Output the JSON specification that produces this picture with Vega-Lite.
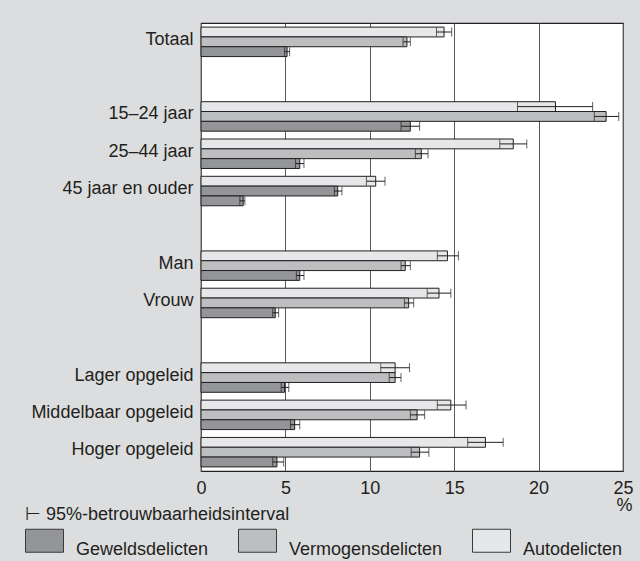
{
  "$schema": "https://vega.github.io/schema/vega-lite/v6.json",
  "autosize": {"type": "none"},
  "padding": {"left": 201, "top": 23, "right": 17, "bottom": 90},
  "width": 422,
  "height": 448,
  "background": "#dcddde",
  "config": {
    "font": "Liberation Sans",
    "view": {"fill": "#ffffff", "stroke": "#231f20", "strokeWidth": 1.2}
  },
  "data": {
    "values": [
      {"groep": "Totaal", "delict": "Autodelicten", "waarde": 14.4, "laag": 13.95, "hoog": 14.85},
      {"groep": "Totaal", "delict": "Vermogensdelicten", "waarde": 12.2, "laag": 11.97, "hoog": 12.4},
      {"groep": "Totaal", "delict": "Geweldsdelicten", "waarde": 5.1, "laag": 4.95, "hoog": 5.25},
      {"groep": "15–24 jaar", "delict": "Autodelicten", "waarde": 21.0, "laag": 18.75, "hoog": 23.2},
      {"groep": "15–24 jaar", "delict": "Vermogensdelicten", "waarde": 24.0, "laag": 23.3, "hoog": 24.75},
      {"groep": "15–24 jaar", "delict": "Geweldsdelicten", "waarde": 12.4, "laag": 11.85, "hoog": 12.95},
      {"groep": "25–44 jaar", "delict": "Autodelicten", "waarde": 18.5, "laag": 17.7, "hoog": 19.3},
      {"groep": "25–44 jaar", "delict": "Vermogensdelicten", "waarde": 13.05, "laag": 12.7, "hoog": 13.45},
      {"groep": "25–44 jaar", "delict": "Geweldsdelicten", "waarde": 5.85, "laag": 5.6, "hoog": 6.1},
      {"groep": "45 jaar en ouder", "delict": "Autodelicten", "waarde": 10.35, "laag": 9.8, "hoog": 10.9},
      {"groep": "45 jaar en ouder", "delict": "Vermogensdelicten", "waarde": 8.1, "laag": 7.9, "hoog": 8.35},
      {"groep": "45 jaar en ouder", "delict": "Geweldsdelicten", "waarde": 2.5, "laag": 2.3, "hoog": 2.6},
      {"groep": "Man", "delict": "Autodelicten", "waarde": 14.6, "laag": 14.0, "hoog": 15.25},
      {"groep": "Man", "delict": "Vermogensdelicten", "waarde": 12.1, "laag": 11.85, "hoog": 12.4},
      {"groep": "Man", "delict": "Geweldsdelicten", "waarde": 5.85, "laag": 5.65, "hoog": 6.1},
      {"groep": "Vrouw", "delict": "Autodelicten", "waarde": 14.1, "laag": 13.4, "hoog": 14.8},
      {"groep": "Vrouw", "delict": "Vermogensdelicten", "waarde": 12.3, "laag": 12.05, "hoog": 12.6},
      {"groep": "Vrouw", "delict": "Geweldsdelicten", "waarde": 4.4, "laag": 4.25, "hoog": 4.6},
      {"groep": "Lager opgeleid", "delict": "Autodelicten", "waarde": 11.5, "laag": 10.65, "hoog": 12.35},
      {"groep": "Lager opgeleid", "delict": "Vermogensdelicten", "waarde": 11.5, "laag": 11.15, "hoog": 11.85},
      {"groep": "Lager opgeleid", "delict": "Geweldsdelicten", "waarde": 4.95, "laag": 4.75, "hoog": 5.2},
      {"groep": "Middelbaar opgeleid", "delict": "Autodelicten", "waarde": 14.8, "laag": 14.0, "hoog": 15.7},
      {"groep": "Middelbaar opgeleid", "delict": "Vermogensdelicten", "waarde": 12.8, "laag": 12.4, "hoog": 13.25},
      {"groep": "Middelbaar opgeleid", "delict": "Geweldsdelicten", "waarde": 5.55, "laag": 5.3, "hoog": 5.85},
      {"groep": "Hoger opgeleid", "delict": "Autodelicten", "waarde": 16.85, "laag": 15.8, "hoog": 17.9},
      {"groep": "Hoger opgeleid", "delict": "Vermogensdelicten", "waarde": 12.95, "laag": 12.45, "hoog": 13.5},
      {"groep": "Hoger opgeleid", "delict": "Geweldsdelicten", "waarde": 4.5, "laag": 4.25, "hoog": 4.9}
    ]
  },
  "encoding": {
    "y": {
      "field": "groep",
      "type": "nominal",
      "title": null,
      "scale": {
        "domain": ["Totaal", "_1", "15–24 jaar", "25–44 jaar", "45 jaar en ouder", "_2", "Man", "Vrouw", "_3", "Lager opgeleid", "Middelbaar opgeleid", "Hoger opgeleid"],
        "paddingInner": 0.21,
        "paddingOuter": 0.11
      },
      "axis": {
        "labelExpr": "slice(datum.label, 0, 1) == '_' ? '' : datum.label",
        "ticks": false,
        "domain": false,
        "labelFontSize": 18,
        "labelColor": "#231f20",
        "labelPadding": 8,
        "labelOffset": -2,
        "labelLimit": 300
      }
    },
    "yOffset": {
      "field": "delict",
      "type": "nominal",
      "scale": {"domain": ["Autodelicten", "Vermogensdelicten", "Geweldsdelicten"], "paddingInner": 0, "paddingOuter": 0}
    }
  },
  "layer": [
    {
      "mark": {"type": "bar", "stroke": "#231f20", "strokeWidth": 1},
      "encoding": {
        "x": {
          "field": "waarde",
          "type": "quantitative",
          "scale": {"domain": [0, 25], "nice": false},
          "axis": {
            "values": [0, 5, 10, 15, 20, 25],
            "grid": true,
            "gridColor": "#58595b",
            "gridWidth": 1,
            "ticks": false,
            "domain": false,
            "labelFontSize": 18,
            "labelColor": "#231f20",
            "labelPadding": 8,
            "labelFlush": false,
            "title": "%",
            "titleFontSize": 18,
            "titleFontWeight": "normal",
            "titleColor": "#231f20",
            "titleAnchor": "end",
            "titleAlign": "right",
            "titleBaseline": "alphabetic",
            "titleX": 431,
            "titleY": 39
          }
        },
        "color": {
          "field": "delict",
          "type": "nominal",
          "condition": {"test": "datum.groep === '45 jaar en ouder' && datum.delict === 'Vermogensdelicten'", "value": "#939598"},
          "scale": {
            "domain": ["Geweldsdelicten", "Vermogensdelicten", "Autodelicten"],
            "range": ["#939598", "#bcbec0", "#e6e7e8"]
          },
          "legend": {
            "orient": "none",
            "legendX": -176,
            "legendY": 483,
            "direction": "horizontal",
            "columns": 3,
            "title": "⊢ 95%-betrouwbaarheidsinterval",
            "titleFontSize": 18,
            "titleFontWeight": "normal",
            "titleColor": "#231f20",
            "titleLimit": 500,
            "titlePadding": -3,
            "labelFontSize": 18,
            "labelColor": "#231f20",
            "labelBaseline": "top",
            "labelOffset": 12,
            "labelLimit": 300,
            "symbolType": "M-1,-0.605H1V0.605H-1Z",
            "symbolSize": 1444,
            "symbolStrokeColor": "#3a3a3a",
            "symbolStrokeWidth": 1,
            "columnPadding": 27,
            "padding": 0
          }
        }
      }
    },
    {
      "mark": {"type": "rule", "color": "#231f20", "strokeWidth": 1},
      "encoding": {
        "x": {"field": "laag", "type": "quantitative"},
        "x2": {"field": "hoog"}
      }
    },
    {
      "mark": {"type": "tick", "color": "#231f20", "thickness": 1, "size": 9, "orient": "vertical"},
      "encoding": {"x": {"field": "laag", "type": "quantitative"}}
    },
    {
      "mark": {"type": "tick", "color": "#231f20", "thickness": 1, "size": 9, "orient": "vertical"},
      "encoding": {"x": {"field": "hoog", "type": "quantitative"}}
    }
  ]
}
